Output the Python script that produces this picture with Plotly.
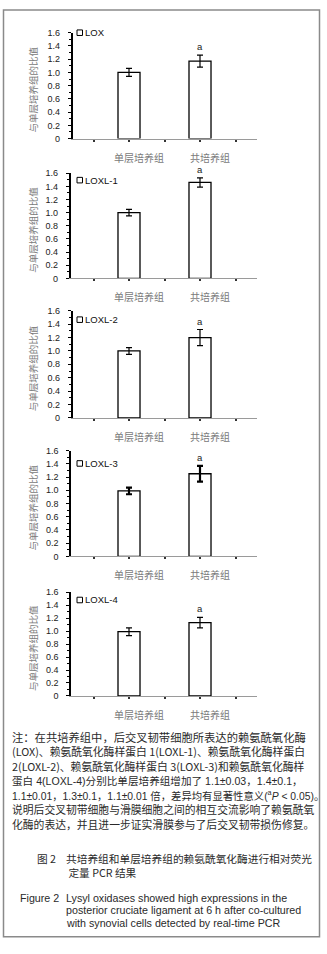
import plotly.graph_objects as go

# ---------------- data ----------------
categories = ["单层培养组", "共培养组"]
genes = ["LOX", "LOXL-1", "LOXL-2", "LOXL-3", "LOXL-4"]
mono_mean = [1.00, 1.00, 1.00, 0.99, 0.99]
mono_err = [0.06, 0.05, 0.05, 0.05, 0.06]
co_mean = [1.17, 1.46, 1.20, 1.25, 1.13]
co_err = [0.09, 0.07, 0.12, 0.12, 0.08]
sig_label = "a"
y_ticks = [0, 0.2, 0.4, 0.6, 0.8, 1.0, 1.2, 1.4, 1.6]
y_ticktext = ["0", "0.2", "0.4", "0.6", "0.8", "1.0", "1.2", "1.4", "1.6"]
y_title = "与单层培养组的比值"

note_lines = [
    "注：在共培养组中，后交叉韧带细胞所表达的赖氨酰氧化酶",
    "(LOX)、赖氨酰氧化酶样蛋白 1(LOXL-1)、赖氨酰氧化酶样蛋白",
    "2(LOXL-2)、赖氨酰氧化酶样蛋白 3(LOXL-3)和赖氨酰氧化酶样",
    "蛋白 4(LOXL-4)分别比单层培养组增加了 1.1±0.03，1.4±0.1，",
    "1.1±0.01，1.3±0.1，1.1±0.01 倍，差异均有显著性意义(<sup>a</sup><i>P</i> &lt; 0.05)。",
    "说明后交叉韧带细胞与滑膜细胞之间的相互交流影响了赖氨酰氧",
    "化酶的表达，并且进一步证实滑膜参与了后交叉韧带损伤修复。",
]
cap_cn_label = "图 2"
cap_cn_lines = ["共培养组和单层培养组的赖氨酰氧化酶进行相对荧光", "定量 PCR 结果"]
cap_en_label = "Figure 2"
cap_en_lines = [
    "Lysyl oxidases showed high expressions in the",
    "posterior cruciate ligament at 6 h after co-cultured",
    "with synovial cells detected by real-time PCR",
]

# ---------------- layout helpers ----------------
W, H = 327, 954
def px(x):
    return x / W
def py(y):
    return 1 - y / H

axis_left = [72.5, 70.5, 72.5, 71, 71]
axis_right = 257
top_px = [28, 170, 309, 450.3, 593.3]
bot_px = [135, 276.3, 417.3, 557.3, 698.3]
legend_off = [0, 7, 9, 13, 8]
err_thick = [1.2, 1.2, 1.2, 2.2, 1.2]
bar_center0, bar_step = 129, 71

CN = "Noto Sans CJK SC"
CNL = "Noto Sans CJK SC, Liberation Sans"
LAT = "Liberation Sans, Arimo, Arial, Noto Sans CJK SC"
TXT = "#2a2a2a"
GRAY = "#7a7a7a"
note_fonts = [(CNL, 11.3), (CNL, 10.8), (CNL, 10.8), (LAT, 10.6), (LAT, 10.35),
              (CNL, 10.8), (CNL, 10.8)]

fig = go.Figure()
annotations = []
shapes = []
layout = {}

xpos = list(range(len(categories)))
for i in range(5):
    n = "" if i == 0 else str(i + 1)
    xa, ya = "x" + n, "y" + n
    fig.add_trace(go.Bar(
        x=xpos, y=[mono_mean[i], co_mean[i]],
        error_y=dict(type="data", array=[mono_err[i], co_err[i]], visible=True,
                     color="black", thickness=err_thick[i], width=3),
        marker=dict(color="white", line=dict(color="black", width=1.3)),
        width=0.31, xaxis=xa, yaxis=ya, showlegend=False, name=genes[i],
    ))
    x0 = axis_left[i]
    rng = [(x0 - bar_center0) / bar_step, (axis_right - bar_center0) / bar_step]
    layout["xaxis" + n] = dict(
        domain=[px(x0), px(axis_right)], anchor=ya, range=rng,
        tickvals=xpos, ticktext=categories,
        ticks="outside", ticklen=2, tickwidth=1.5, tickcolor="#333",
        minor=dict(tickvals=[-0.5, 0.5, 1.5], ticks="outside", ticklen=2,
                   tickwidth=1.5, tickcolor="#333"),
        showline=True, linecolor="#9a9a9a", linewidth=1,
        showgrid=False, zeroline=False, fixedrange=True,
        ticklabelshift=10, ticklabelstandoff=8,
        tickfont=dict(family=CN, size=10, color=GRAY),
    )
    layout["yaxis" + n] = dict(
        domain=[py(bot_px[i]), py(top_px[i])], anchor=xa, range=[0, 1.6],
        tickvals=y_ticks, ticktext=y_ticktext,
        ticks="outside", ticklen=3, tickwidth=1.2, tickcolor="black",
        minor=dict(dtick=0.1, ticks="outside", ticklen=2, tickcolor="black", tickwidth=1),
        showline=True, linecolor="black", linewidth=1.6,
        showgrid=False, zeroline=False, fixedrange=True,
        ticklabelstandoff=6,
        tickfont=dict(family=LAT, size=9, color="#222"),
    )
    # significance letter
    annotations.append(dict(
        x=1, y=co_mean[i] + co_err[i], xref=xa, yref=ya, text=sig_label,
        showarrow=False, yanchor="bottom", yshift=2, borderpad=0,
        font=dict(family=LAT, size=9.5, color="#222"),
    ))
    # y-axis title
    annotations.append(dict(
        x=px(33), y=py((top_px[i] + bot_px[i]) / 2 + 4), xref="paper", yref="paper",
        text=y_title, textangle=-90, showarrow=False,
        xanchor="center", yanchor="middle",
        font=dict(family=CN, size=9.5, color=GRAY),
    ))
    # legend box + text
    ly = top_px[i] + legend_off[i]
    shapes.append(dict(type="rect", xref="paper", yref="paper",
                       x0=px(77), x1=px(82.5), y0=py(ly + 2.8), y1=py(ly - 2.8),
                       line=dict(color="black", width=1), fillcolor="white"))
    annotations.append(dict(
        x=px(82.5), y=py(ly), xref="paper", yref="paper", text=genes[i],
        showarrow=False, xanchor="left", yanchor="middle",
        font=dict(family=LAT, size=9.5, color="#111"),
    ))

# note text: one block, one styled span per line (line pitch = 1.3 x 11.1 px)
note_text = "<br>".join(
    f'<span style="font-family:{fam};font-size:{fs}px">{t}</span>'
    for t, (fam, fs) in zip(note_lines, note_fonts)
)
annotations.append(dict(
    x=px(11), y=py(783.5), xref="paper", yref="paper", text=note_text,
    showarrow=False, xanchor="left", yanchor="middle", align="left", borderpad=0,
    font=dict(family=CNL, size=11.1, color=TXT),
))
# Chinese caption
annotations.append(dict(x=px(36), y=py(863), xref="paper", yref="paper", text=cap_cn_label,
                        showarrow=False, xanchor="left", yanchor="middle", borderpad=0,
                        font=dict(family=CNL, size=10.7, color=TXT)))
annotations.append(dict(x=px(65), y=py(870), xref="paper", yref="paper",
                        text=cap_cn_lines[0] + "<br> " + cap_cn_lines[1],
                        showarrow=False, xanchor="left", yanchor="middle", align="left",
                        borderpad=0, font=dict(family=CNL, size=10.7, color=TXT)))
# English caption
annotations.append(dict(x=px(19), y=py(902), xref="paper", yref="paper", text=cap_en_label,
                        showarrow=False, xanchor="left", yanchor="middle", borderpad=0,
                        font=dict(family=LAT, size=10.7, color=TXT)))
for t, yy in zip(cap_en_lines, [902, 915, 928]):
    annotations.append(dict(x=px(65), y=py(yy), xref="paper", yref="paper", text=t,
                            showarrow=False, xanchor="left", yanchor="middle", borderpad=0,
                            font=dict(family=LAT, size=10.7, color=TXT)))

# outer frame
shapes.append(dict(type="rect", xref="paper", yref="paper",
                   x0=px(3.5), x1=px(319.5), y0=py(941.5), y1=py(5),
                   line=dict(color="#8a8a8a", width=1.5), fillcolor="rgba(0,0,0,0)", layer="below"))

fig.update_layout(
    width=W, height=H, margin=dict(l=0, r=0, t=0, b=0),
    paper_bgcolor="white", plot_bgcolor="white",
    annotations=annotations, shapes=shapes, **layout,
)
fig.write_html(
    "out.html",
    config={"displayModeBar": False},
    post_script="document.body.style.margin='0px';document.body.style.padding='0px';",
)
